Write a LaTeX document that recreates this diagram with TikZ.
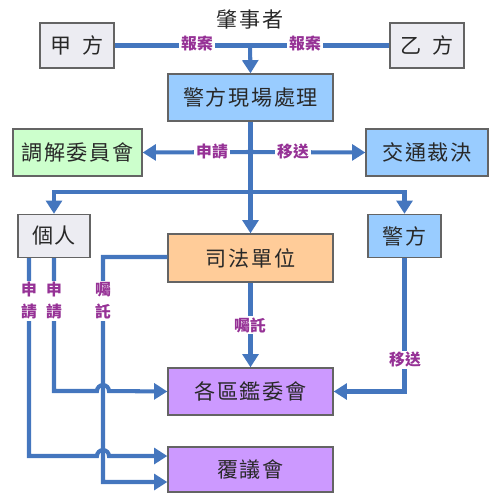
\documentclass[tikz,border=0pt]{standalone}
\usepackage{fontspec}
\newfontfamily\cjk[LetterSpace=8]{Noto Sans CJK TC}
\newfontfamily\cjklbl{Noto Sans CJK TC}
\usetikzlibrary{arrows.meta}
\definecolor{ln}{RGB}{68,118,190}
\definecolor{boxborder}{RGB}{100,100,100}
\definecolor{txt}{RGB}{40,40,40}
\definecolor{lblc}{RGB}{150,50,150}
\definecolor{fgray}{RGB}{236,236,242}
\definecolor{fblue}{RGB}{153,204,255}
\definecolor{fgreen}{RGB}{204,255,204}
\definecolor{forange}{RGB}{255,204,153}
\definecolor{fpurple}{RGB}{204,153,255}
\begin{document}
\begin{tikzpicture}[x=0.02cm,y=-0.02cm,
  box/.style={draw=boxborder,line width=0.8pt,inner sep=0pt,font=\cjk\fontsize{12}{14}\selectfont,text=txt},
  conn/.style={draw=ln,line width=2.3pt},
  arr/.style={conn,-{Triangle[width=9pt,length=7.5pt]}},
  lbl/.style={fill=white,inner sep=1pt,font=\cjklbl\fontsize{9}{12.5}\selectfont\bfseries,text=lblc,align=center},
]
\useasboundingbox (0,0) rectangle (500,504);

% boxes
\node[box,fill=fgray,minimum width=1.48cm,minimum height=0.9cm] (jia) at (77,45.5) {甲\hspace{0.5em}方};
\node[box,fill=fgray,minimum width=1.48cm,minimum height=0.9cm] (yi) at (427,45.5) {乙\hspace{0.5em}方};
\node[font=\cjk\fontsize{12}{14}\selectfont,text=txt] (who) at (250,20) {肇事者};
\node[box,fill=fblue,minimum width=3.3cm,minimum height=0.94cm] (pol) at (250.5,97.5) {警方現場處理};
\node[box,fill=fgreen,minimum width=2.58cm,minimum height=0.94cm] (med) at (77.5,152.5) {調解委員會};
\node[box,fill=fblue,minimum width=2.44cm,minimum height=0.94cm] (traffic) at (427,152.5) {交通裁決};
\node[box,fill=fgray,minimum width=1.44cm,minimum height=0.86cm] (person) at (54,236) {個人};
\node[box,fill=fblue,minimum width=1.46cm,minimum height=0.86cm] (police) at (404.5,236) {警方};
\node[box,fill=forange,minimum width=3.3cm,minimum height=0.96cm] (court) at (250.5,258) {司法單位};
\node[box,fill=fpurple,minimum width=3.3cm,minimum height=0.94cm] (appr) at (250.5,391.5) {各區鑑委會};
\node[box,fill=fpurple,minimum width=3.3cm,minimum height=0.9cm] (review) at (250.5,469.5) {覆議會};

% connectors
\coordinate (top) at (250,44);
\coordinate (j1) at (250,152);
\coordinate (j2) at (250,192);
\draw[conn] (jia.east) -- (yi.west);
\draw[arr] (top) -- (pol.north);
\draw[arr] (pol.south) -- (court.north);
\draw[arr] (j1) -- (med.east);
\draw[arr] (j1) -- (traffic.west);
\draw[arr] (j2) -| (person.north);
\draw[arr] (j2) -| (police.north);
\draw[arr] (court.south) -- (appr.north);
\draw[arr] (police.south) |- (appr.east);
\draw[arr] (court.west |- 0,257) -- (103,257) -- (103,482) -- ([yshift=-0.25cm]review.west);
\draw[arr] (person.south) -- (54,391) -- (97,391) arc[start angle=180,end angle=0,radius=3.4pt] -- (appr.west);
\draw[arr] ([xshift=-0.5cm]person.south) -- (29,456) -- (97,456) arc[start angle=180,end angle=0,radius=3.4pt] -- ([yshift=0.27cm]review.west);

% labels
\node[lbl] (l1) at (197,44) {報案};
\node[lbl] (l2) at (305,44) {報案};
\node[lbl] (l3) at (212,152) {申請};
\node[lbl] (l4) at (293,152) {移送};
\node[lbl] (l5) at (29,301) {申\\請};
\node[lbl] (l6) at (54,301) {申\\請};
\node[lbl] (l7) at (103,301) {囑\\託};
\node[lbl] (l8) at (250,325) {囑託};
\node[lbl] (l9) at (405,360) {移送};
\end{tikzpicture}
\end{document}
